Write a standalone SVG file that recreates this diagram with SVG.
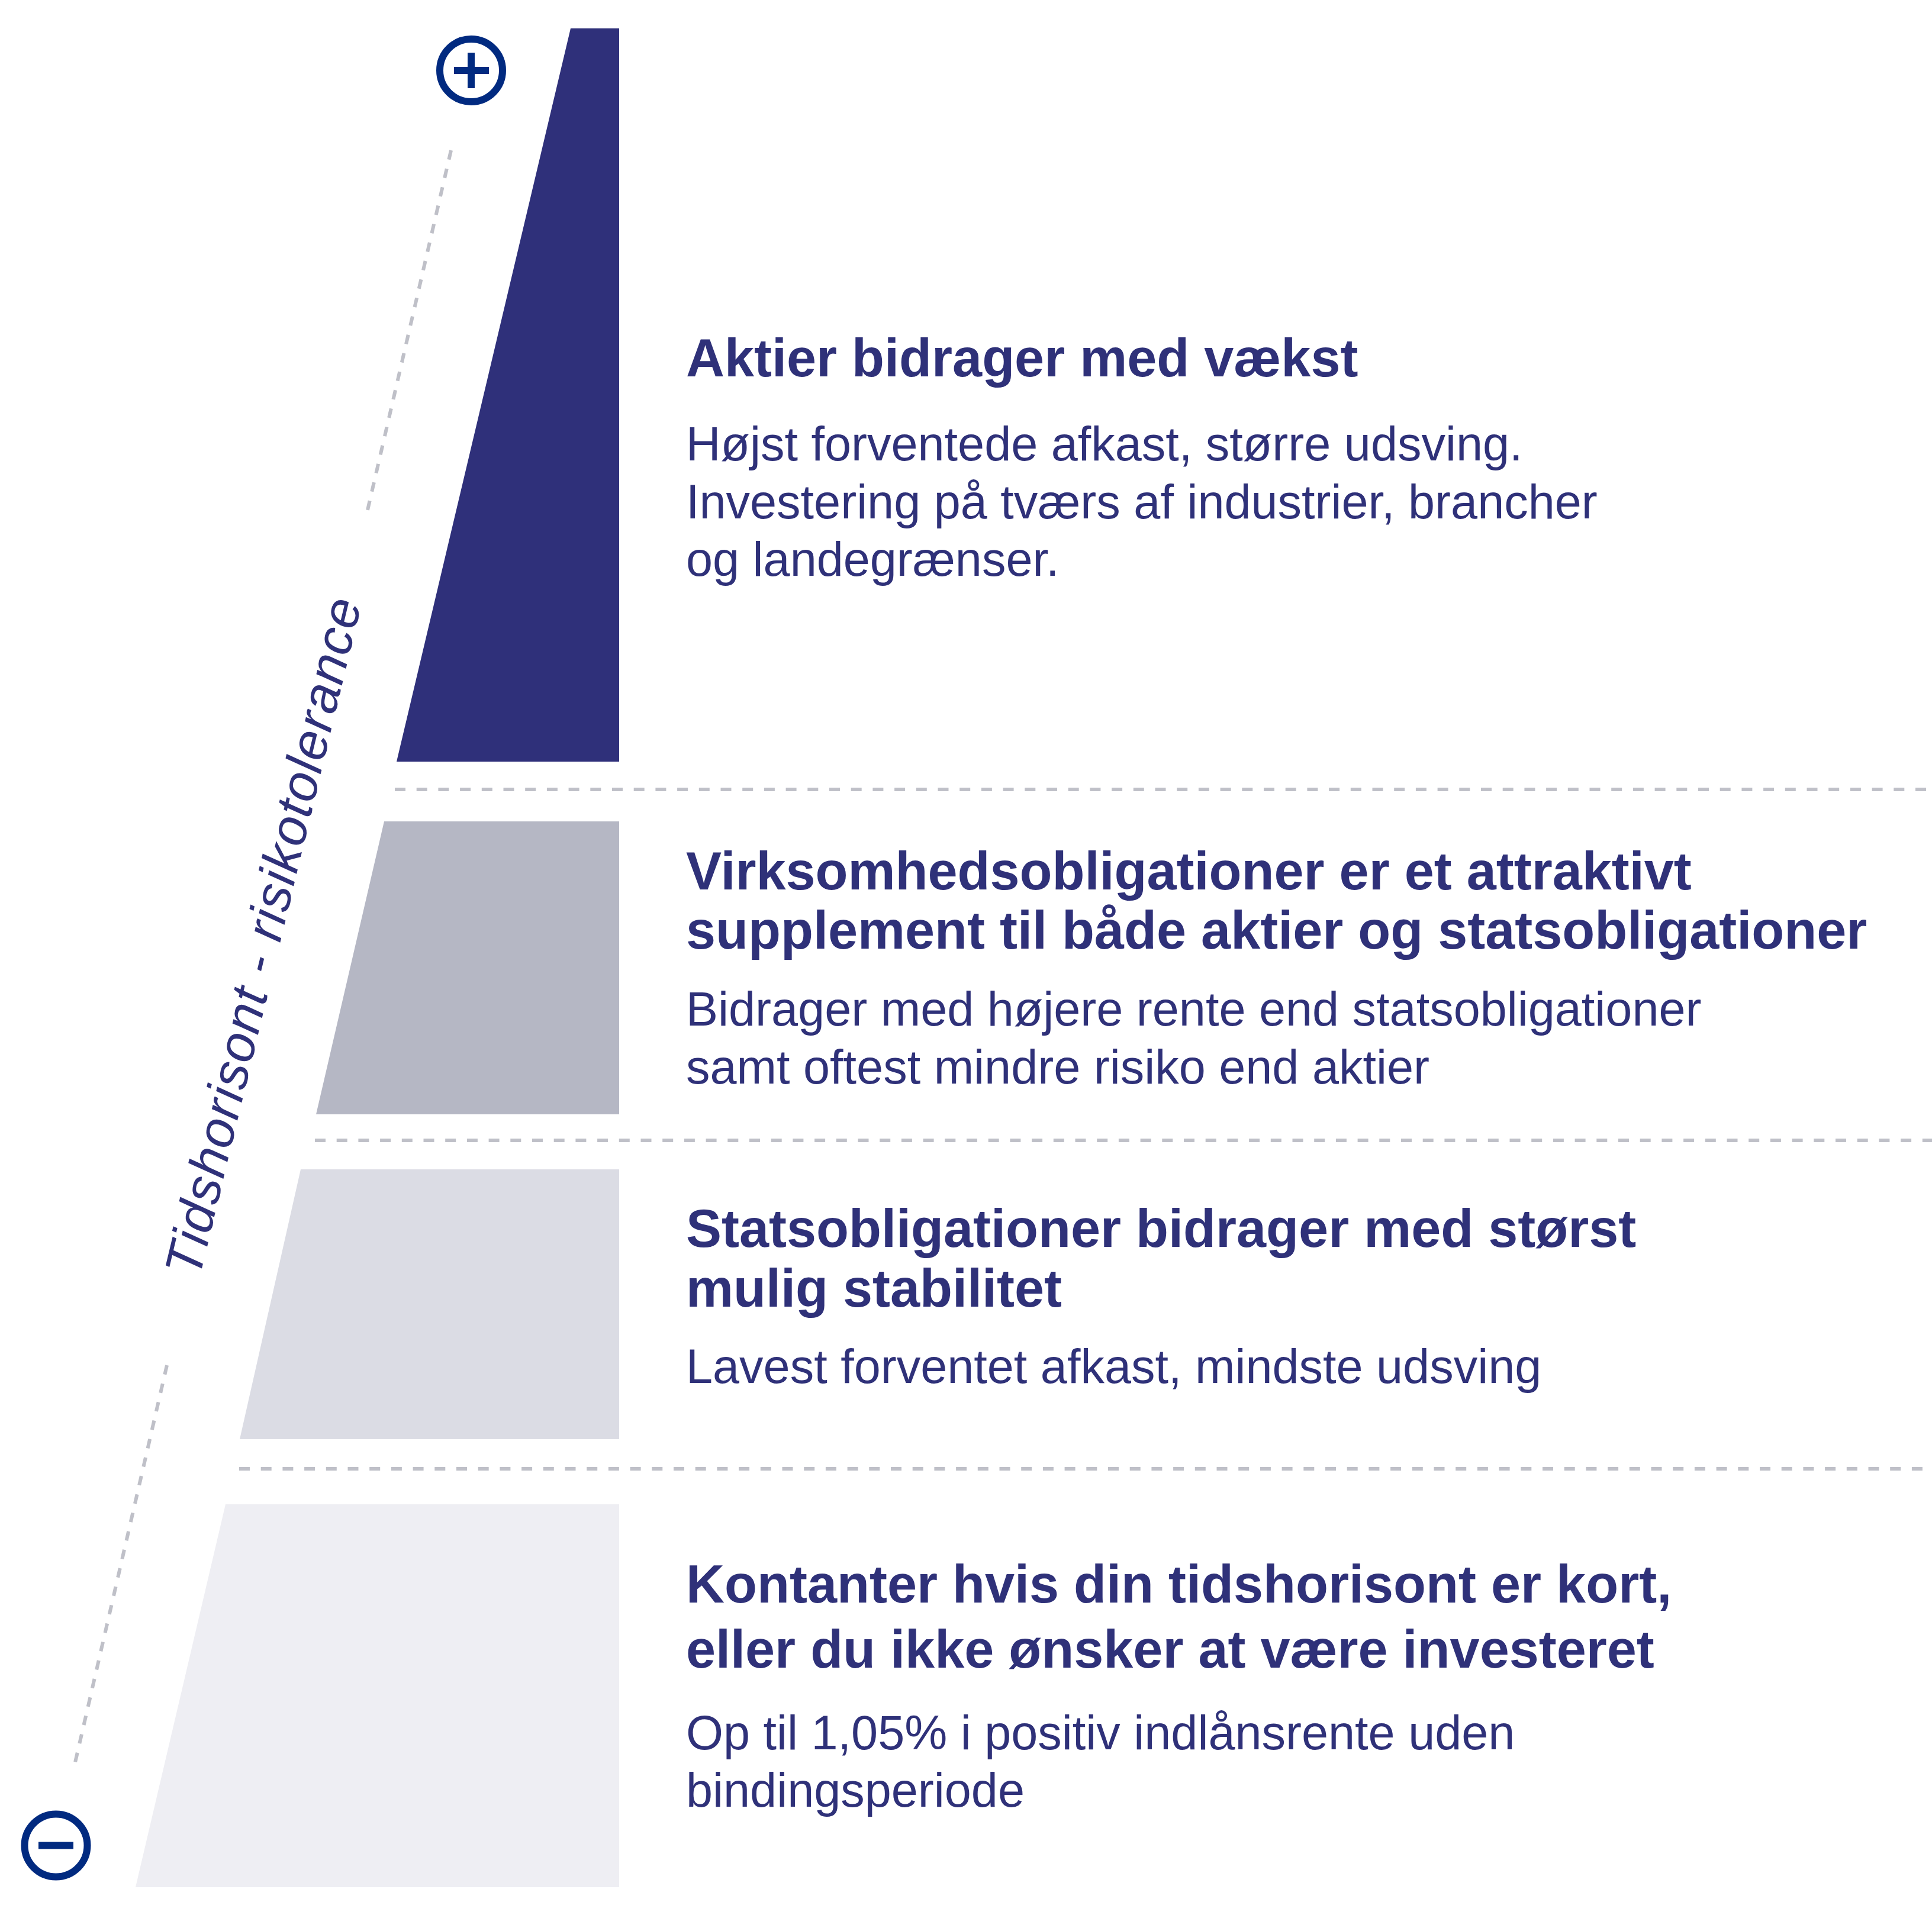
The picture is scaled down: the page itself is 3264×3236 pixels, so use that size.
<svg xmlns="http://www.w3.org/2000/svg" width="3264" height="3236" viewBox="0 0 3264 3236">
<style>
.h{font-family:"Liberation Sans",Arial,Helvetica,sans-serif;font-weight:bold;font-size:90px;fill:#2f3179}
.b{font-family:"Liberation Sans",Arial,Helvetica,sans-serif;font-size:81px;fill:#2f3179}
.ax{font-family:"Liberation Sans",Arial,Helvetica,sans-serif;font-style:italic;font-size:88px;fill:#2f3179}
.dash{stroke:#bfc0c8;stroke-width:6;fill:none;stroke-dasharray:18 18.7}
.diag{stroke:#bfc0c8;stroke-width:6;fill:none;stroke-dasharray:16 16}
.ic{fill:none;stroke:#012a80;stroke-width:12}
.icf{fill:#012a80}
</style>
<rect width="3264" height="3236" fill="#ffffff"/>
<g id="connectors">
<line class="dash" x1="667" y1="1334" x2="3264" y2="1334"/>
<line class="dash" x1="532" y1="1927" x2="3264" y2="1927"/>
<line class="dash" x1="404" y1="2482" x2="3264" y2="2482"/>
<line class="diag" x1="762" y1="254" x2="621" y2="862"/>
<line class="diag" x1="282" y1="2307" x2="127" y2="2978"/>
</g>
<g id="tier-aktier">
<polygon points="964,48 1046,48 1046,1287 670,1287" fill="#2f307a"/>
<text class="h" x="1159" y="636">Aktier bidrager med vækst</text>
<text class="b" x="1159" y="778">Højst forventede afkast, større udsving.</text>
<text class="b" x="1159" y="876">Investering på tværs af industrier, brancher</text>
<text class="b" x="1159" y="973">og landegrænser.</text>
</g>
<g id="tier-virksomhedsobligationer">
<polygon points="649,1388 1046,1388 1046,1883 534,1883" fill="#b5b7c4"/>
<text class="h" x="1159" y="1503">Virksomhedsobligationer er et attraktivt</text>
<text class="h" x="1159" y="1603">supplement til både aktier og statsobligationer</text>
<text class="b" x="1159" y="1733">Bidrager med højere rente end statsobligationer</text>
<text class="b" x="1159" y="1831">samt oftest mindre risiko end aktier</text>
</g>
<g id="tier-statsobligationer">
<polygon points="508,1976 1046,1976 1046,2432 405,2432" fill="#dbdce4"/>
<text class="h" x="1159" y="2107">Statsobligationer bidrager med størst</text>
<text class="h" x="1159" y="2208">mulig stabilitet</text>
<text class="b" x="1159" y="2337">Lavest forventet afkast, mindste udsving</text>
</g>
<g id="tier-kontanter">
<polygon points="381,2542 1046,2542 1046,3189 229,3189" fill="#eeeef3"/>
<text class="h" x="1159" y="2708">Kontanter hvis din tidshorisont er kort,</text>
<text class="h" x="1159" y="2818">eller du ikke ønsker at være investeret</text>
<text class="b" x="1159" y="2956">Op til 1,05% i positiv indlånsrente uden</text>
<text class="b" x="1159" y="3053">bindingsperiode</text>
</g>
<g id="axis-label">
<text class="ax" x="0" y="0" text-anchor="middle" textLength="1175" lengthAdjust="spacing" transform="translate(474,1590) rotate(-76.5)">Tidshorisont - risikotolerance</text>
</g>
<g id="icon-plus">
<circle class="ic" cx="796" cy="119" r="53"/>
<rect class="icf" x="767" y="113" width="59" height="12"/>
<rect class="icf" x="790" y="89" width="12" height="60"/>
</g>
<g id="icon-minus">
<circle class="ic" cx="94.5" cy="3118.5" r="53"/>
<rect class="icf" x="65" y="3112.5" width="59" height="12"/>
</g>
</svg>
